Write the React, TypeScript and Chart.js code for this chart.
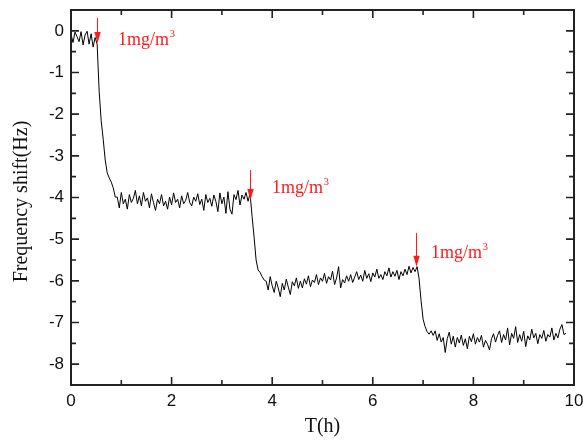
import { useEffect, useRef } from 'react';
import { Chart, registerables } from 'chart.js';

Chart.register(...registerables);

// Sampling interval of the recorded trace (hours per sample)
const SAMPLE_INTERVAL_H = 0.04;

// Frequency shift (Hz), phase by phase
const BASELINE = [-0.08, -0.28, -0.03, -0.14, -0.26, -0.02, -0.34, -0.1, -0.01, -0.32, -0.07, -0.39, -0.16, -0.32];
const DROP_1 = [-1.45, -2.16, -2.6, -3.1, -3.41, -3.53, -3.63, -3.77, -3.99];
const PLATEAU_1 = [
  -3.99, -4.25, -3.88, -4.15, -4.04, -4.28, -3.93, -4.12, -4.02, -3.83,
  -4.15, -3.96, -4.2, -3.88, -4.09, -4.01, -4.25, -3.91, -4.12, -4.31,
  -4.04, -4.15, -3.93, -4.2, -4.09, -4.28, -3.99, -4.18, -3.89, -4.12,
  -4.04, -4.25, -3.96, -4.15, -4.07, -3.88, -4.12, -4.2, -3.99, -4.09,
  -3.91, -4.17, -4.04, -4.31, -3.93, -4.12, -4.02, -4.21, -3.94, -4.09,
  -4.34, -3.89, -4.15, -3.99, -4.38, -3.86, -4.28, -4.4, -3.93, -4.05,
  -3.83, -4.18, -3.94, -4.04, -3.88, -4.09, -3.91,
];
const DROP_2 = [-4.45, -4.95, -5.5, -5.74, -5.8, -5.9, -5.98];
const PLATEAU_2 = [
  -6.01, -6.22, -5.9, -6.12, -6.28, -6.01, -6.17, -6.38, -6.06, -6.22,
  -5.96, -6.15, -6.33, -6.02, -6.12, -5.93, -6.18, -6.01, -6.17, -5.95,
  -6.08, -5.88, -6.14, -5.98, -6.04, -5.85, -6.09, -5.93, -6.01, -5.82,
  -6.06, -5.9, -5.98, -5.77, -6.09, -5.93, -5.66, -6.17, -5.97, -6.05,
  -5.88, -6.01, -5.85, -6.04, -5.91, -5.78, -5.97, -5.86, -6.01, -5.75,
  -5.94, -5.83, -6.02, -5.81, -5.91, -5.72, -5.94, -5.85, -5.97, -5.78,
  -5.88, -5.69, -5.91, -5.78, -5.89, -5.75, -5.97, -5.78, -5.88, -5.72,
  -5.85, -5.65, -5.81, -5.68, -5.78, -5.66,
];
const DROP_3 = [-5.95, -6.48, -6.92, -7.1, -7.22, -7.28];
const PLATEAU_3 = [
  -7.2, -7.31, -7.2, -7.43, -7.27, -7.47, -7.36, -7.72, -7.39, -7.23,
  -7.52, -7.33, -7.59, -7.36, -7.49, -7.3, -7.55, -7.39, -7.63, -7.33,
  -7.46, -7.27, -7.52, -7.36, -7.47, -7.31, -7.59, -7.43, -7.52, -7.66,
  -7.39, -7.27, -7.47, -7.31, -7.2, -7.48, -7.29, -7.42, -7.13, -7.54,
  -7.26, -7.38, -7.1, -7.48, -7.29, -7.45, -7.21, -7.58, -7.32, -7.42,
  -7.16, -7.37, -7.26, -7.51, -7.29, -7.38, -7.19, -7.45, -7.29, -7.35,
  -7.13, -7.42, -7.26, -7.37, -7.16, -7.05, -7.29, -7.26,
];

const X_TICKS = [0, 2, 4, 6, 8, 10];
const Y_TICKS = [0, -1, -2, -3, -4, -5, -6, -7, -8];

// Injection annotations (data coordinates)
const INJECT_T = [0.52, 3.56, 6.86];
const ARROW_TOP = [0.31, -3.34, -4.85];
const ARROW_TIP = [-0.29, -4.06, -5.66];
const LABEL_T = [0.934, 3.996, 7.157];
const LABEL_Y = [-0.33, -3.89, -5.46];
const LABEL_TEXT = '1mg/m';
const LABEL_SUP = '3';

const X_TITLE = 'T(h)';
const Y_TITLE = 'Frequency shift(Hz)';

const SANS = '"Liberation Sans", Arial, sans-serif';
const SERIF = '"Liberation Serif", "Times New Roman", serif';

const framePlugin = {
  id: 'frameAndNotes',
  afterDraw(chart: any) {
    const { ctx, chartArea: a } = chart;
    const xs = chart.scales.x;
    const ys = chart.scales.y;
    ctx.save();
    ctx.strokeStyle = '#222';
    ctx.lineWidth = 2;
    ctx.strokeRect(a.left, a.top, a.right - a.left, a.bottom - a.top);

    const major = 8;
    const minor = 5;
    ctx.lineWidth = 1.6;
    ctx.beginPath();
    for (let v = 0; v <= 10; v += 1) {
      const px = xs.getPixelForValue(v);
      const len = v % 2 === 0 ? major : minor;
      ctx.moveTo(px, a.bottom);
      ctx.lineTo(px, a.bottom - len);
      ctx.moveTo(px, a.top);
      ctx.lineTo(px, a.top + len);
    }
    for (let k = -16; k <= 0; k += 1) {
      const v = k / 2;
      const py = ys.getPixelForValue(v);
      const len = k % 2 === 0 ? major : minor;
      ctx.moveTo(a.left, py);
      ctx.lineTo(a.left + len, py);
      ctx.moveTo(a.right, py);
      ctx.lineTo(a.right - len, py);
    }
    ctx.stroke();

    // Axis titles
    ctx.fillStyle = '#111';
    ctx.font = `20px ${SERIF}`;
    ctx.textAlign = 'center';
    ctx.textBaseline = 'alphabetic';
    ctx.fillText(X_TITLE, (a.left + a.right) / 2, 432);
    ctx.save();
    ctx.translate(27, (a.top + a.bottom) / 2 + 4);
    ctx.rotate(-Math.PI / 2);
    ctx.fillText(Y_TITLE, 0, 0);
    ctx.restore();

    // Arrows and labels
    ctx.strokeStyle = '#ff1a1a';
    ctx.fillStyle = '#ff1a1a';
    ctx.lineWidth = 1;
    for (let i = 0; i < INJECT_T.length; i++) {
      const x = Math.round(xs.getPixelForValue(INJECT_T[i])) + 0.5;
      const top = ys.getPixelForValue(ARROW_TOP[i]);
      const tip = ys.getPixelForValue(ARROW_TIP[i]);
      ctx.beginPath();
      ctx.moveTo(x, top);
      ctx.lineTo(x, tip - 9);
      ctx.stroke();
      ctx.beginPath();
      ctx.moveTo(x, tip);
      ctx.lineTo(x - 3.2, tip - 11);
      ctx.lineTo(x + 3.2, tip - 11);
      ctx.closePath();
      ctx.fill();

      const lx = xs.getPixelForValue(LABEL_T[i]);
      const ly = ys.getPixelForValue(LABEL_Y[i]);
      ctx.textAlign = 'left';
      ctx.textBaseline = 'alphabetic';
      ctx.font = `18px ${SERIF}`;
      ctx.fillText(LABEL_TEXT, lx, ly);
      const w = ctx.measureText(LABEL_TEXT).width;
      ctx.font = `11px ${SERIF}`;
      ctx.fillText(LABEL_SUP, lx + w + 0.5, ly - 8);
    }
    ctx.restore();
  },
};

export default function App() {
  const ref = useRef<HTMLCanvasElement | null>(null);

  useEffect(() => {
    if (!ref.current) return;
    const values = [...BASELINE, ...DROP_1, ...PLATEAU_1, ...DROP_2, ...PLATEAU_2, ...DROP_3, ...PLATEAU_3];
    const points = values.map((y, i) => ({ x: i * SAMPLE_INTERVAL_H, y }));
    const chart = new Chart(ref.current, {
      type: 'line',
      data: {
        datasets: [
          {
            data: points,
            borderColor: '#000',
            borderWidth: 1,
            pointRadius: 0,
            tension: 0,
            fill: false,
          },
        ],
      },
      options: {
        animation: false,
        responsive: false,
        devicePixelRatio: 1,
        layout: { padding: { top: 10, right: 9, left: 0, bottom: 0 } },
        plugins: { legend: { display: false }, tooltip: { enabled: false } },
        scales: {
          x: {
            type: 'linear',
            min: 0,
            max: 10,
            grid: { display: false, drawTicks: false },
            border: { display: false },
            ticks: {
              padding: 6,
              color: '#111',
              font: { size: 17, family: SANS },
              maxRotation: 0,
              autoSkip: false,
              callback: (v: any) => String(v),
            },
            afterBuildTicks: (s: any) => {
              s.ticks = X_TICKS.map((v) => ({ value: v }));
            },
            afterFit: (s: any) => {
              s.height = 55;
              s.paddingLeft = 0;
              s.paddingRight = 0;
            },
          },
          y: {
            type: 'linear',
            min: -8.5,
            max: 0.5,
            grid: { display: false, drawTicks: false },
            border: { display: false },
            ticks: {
              padding: 7,
              color: '#111',
              font: { size: 17, family: SANS },
              autoSkip: false,
              callback: (v: any) => String(v),
            },
            afterBuildTicks: (s: any) => {
              s.ticks = Y_TICKS.map((v) => ({ value: v }));
            },
            afterFit: (s: any) => {
              s.width = 71;
              s.paddingTop = 0;
              s.paddingBottom = 0;
            },
          },
        },
      },
      plugins: [framePlugin],
    });
    return () => chart.destroy();
  }, []);

  return (
    <div style={{ position: 'fixed', left: 0, top: 0, width: 583, height: 440, background: '#fff' }}>
      <canvas ref={ref} width={583} height={440} style={{ display: 'block' }} />
    </div>
  );
}
